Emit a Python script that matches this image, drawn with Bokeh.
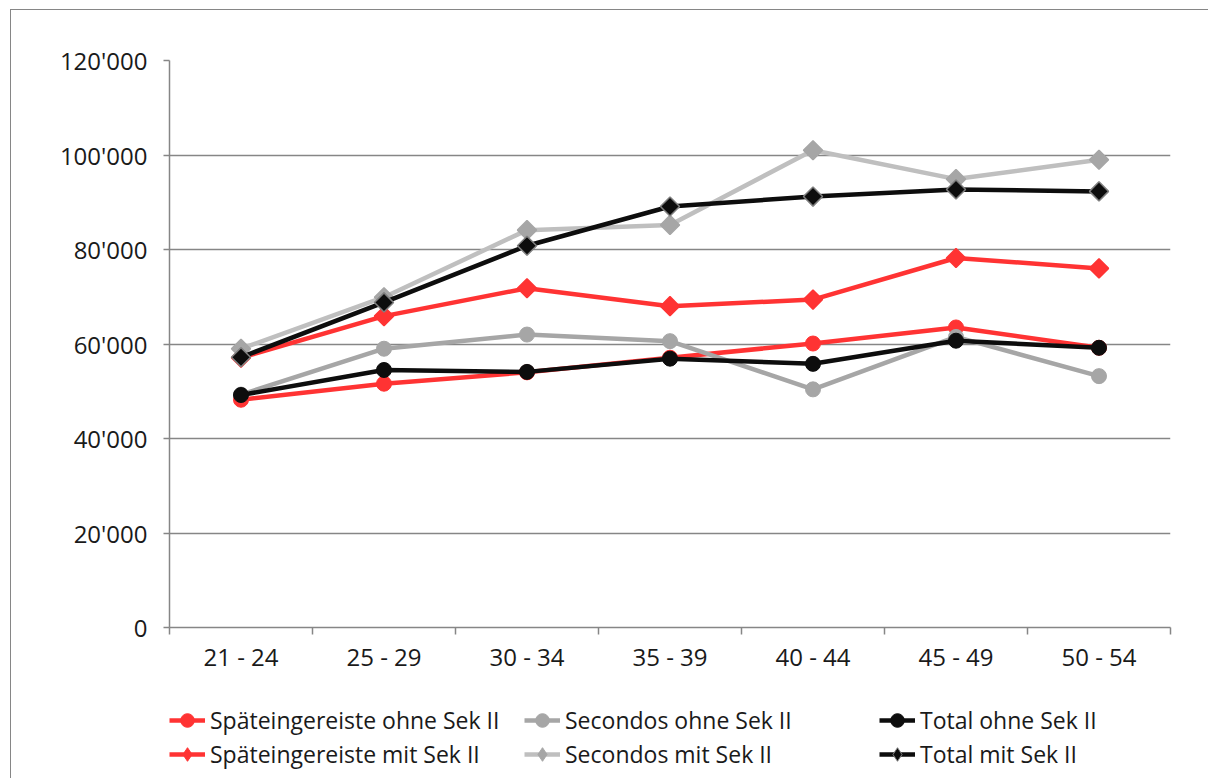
from bokeh.plotting import figure
from bokeh.layouts import column
from bokeh.models import (FixedTicker, Legend, LegendItem, ColumnDataSource, Range1d)
from bokeh.embed import file_html
from bokeh.resources import INLINE
import math

# Age groups and mean income per group
age_groups = ["21 - 24", "25 - 29", "30 - 34", "35 - 39", "40 - 44", "45 - 49", "50 - 54"]

spaet_ohne = [48200, 51600, 54000, 57100, 60100, 63500, 59200]
secondos_ohne = [49300, 59000, 62000, 60600, 50400, 61500, 53200]
total_ohne = [49200, 54500, 54100, 56900, 55800, 60700, 59200]
spaet_mit = [57100, 65900, 71800, 68000, 69400, 78200, 76000]
secondos_mit = [59000, 69900, 84100, 85200, 101000, 94900, 99000]
total_mit = [57200, 68800, 80800, 89100, 91200, 92700, 92300]

y_ticks = [0, 20000, 40000, 60000, 80000, 100000, 120000]

FONT = "Open Sans"
GRID = "#868686"
TEXT = "#1a1a1a"

x_pos = [i + 0.5 for i in range(len(age_groups))]

p = figure(width=1197, height=670, output_backend="svg", toolbar_location=None,
           x_range=Range1d(0, len(age_groups)), y_range=Range1d(0, 120000),
           min_border_left=158, min_border_right=38, min_border_top=50,
           min_border_bottom=53)
p.outline_line_color = None

# y axis
p.yaxis.ticker = FixedTicker(ticks=y_ticks)
p.yaxis.major_label_overrides = {t: f"{t:,}".replace(",", "'") for t in y_ticks}
p.yaxis.axis_line_color = GRID
p.yaxis.axis_line_width = 1.5
p.yaxis.major_tick_line_color = GRID
p.yaxis.major_tick_line_width = 1.5
p.yaxis.major_tick_out = 6
p.yaxis.major_tick_in = 0
p.yaxis.minor_tick_line_color = None
p.yaxis.major_label_text_font = FONT
p.yaxis.major_label_text_font_size = "24px"
p.yaxis.major_label_text_color = TEXT
p.yaxis.major_label_standoff = 16

# x axis: labels at group centres, tick marks at group boundaries
p.xaxis.ticker = FixedTicker(ticks=x_pos, minor_ticks=list(range(len(age_groups) + 1)))
p.xaxis.major_label_overrides = {x: lab for x, lab in zip(x_pos, age_groups)}
p.xaxis.major_tick_line_color = None
p.xaxis.minor_tick_line_color = GRID
p.xaxis.minor_tick_line_width = 1.5
p.xaxis.minor_tick_out = 7
p.xaxis.minor_tick_in = 0
p.xaxis.axis_line_color = GRID
p.xaxis.axis_line_width = 1.5
p.xaxis.major_label_text_font = FONT
p.xaxis.major_label_text_font_size = "24px"
p.xaxis.major_label_text_color = TEXT
p.xaxis.major_label_standoff = 5

p.xgrid.grid_line_color = None
p.ygrid.ticker = FixedTicker(ticks=y_ticks)
p.ygrid.grid_line_color = GRID
p.ygrid.grid_line_width = 1.3

series = [
    ("Späteingereiste ohne Sek II", spaet_ohne, "#ff3333", "#ff3333", "circle", "#ff3333"),
    ("Secondos ohne Sek II", secondos_ohne, "#a6a6a6", "#a6a6a6", "circle", "#a6a6a6"),
    ("Total ohne Sek II", total_ohne, "#0d0d0d", "#0d0d0d", "circle", "#0d0d0d"),
    ("Späteingereiste mit Sek II", spaet_mit, "#ff3333", "#ff3333", "diamond", "#ff3333"),
    ("Secondos mit Sek II", secondos_mit, "#bfbfbf", "#a6a6a6", "diamond", "#a6a6a6"),
    ("Total mit Sek II", total_mit, "#0d0d0d", "#0d0d0d", "diamond", "#7f7f7f"),
]

# legend lives in its own strip below the chart
leg = figure(width=1197, height=98, output_backend="svg", toolbar_location=None,
             x_range=Range1d(0, 1), y_range=Range1d(0, 1),
             min_border_left=0, min_border_right=0,
             min_border_top=0, min_border_bottom=0)
leg.axis.visible = False
leg.grid.visible = False
leg.outline_line_color = None


def add_plot_series(vals, lcol, mfill, mk, mline):
    src = ColumnDataSource(dict(x=x_pos, y=vals))
    p.line("x", "y", source=src, line_color=lcol, line_width=4.5)
    if mk == "circle":
        p.scatter("x", "y", source=src, marker="circle", size=15,
                  fill_color=mfill, line_color=mline, line_width=1)
    else:
        p.scatter("x", "y", source=src, marker="square", size=13.5,
                  angle=math.pi / 4, fill_color=mfill, line_color=mline,
                  line_width=1.5)


def add_key(lcol, mfill, mk, mline):
    nan = float("nan")
    src = ColumnDataSource(dict(x=[nan], y=[nan]))
    lr = leg.line("x", "y", source=src, line_color=lcol, line_width=4.5)
    if mk == "circle":
        sr = leg.scatter("x", "y", source=src, marker="circle", size=11,
                         fill_color=mfill, line_color=mline, line_width=1)
    else:
        sr = leg.scatter("x", "y", source=src, marker="diamond", size=14,
                         fill_color=mfill, line_color=mline, line_width=1)
    return lr, sr


items = []
for name, vals, lcol, mfill, mk, mline in series:
    add_plot_series(vals, lcol, mfill, mk, mline)
    lr, sr = add_key(lcol, mfill, mk, mline)
    items.append(LegendItem(label=name, renderers=[lr, sr]))

legend = Legend(items=items, orientation="horizontal", ncols=3,
                location=(0, 7), glyph_width=36, glyph_height=34,
                label_height=34, label_standoff=5, label_width=314, spacing=0,
                label_text_font=FONT, label_text_font_size="23px",
                label_text_color=TEXT, padding=0, margin=0,
                border_line_color=None, background_fill_alpha=0)
leg.add_layout(legend, "center")

layout = column(p, leg, spacing=0, margin=(9, 0, 0, 10),
                styles={"border-left": "1px solid #868686",
                        "border-top": "1px solid #868686"})

open("out.html", "w").write(file_html(layout, INLINE))
